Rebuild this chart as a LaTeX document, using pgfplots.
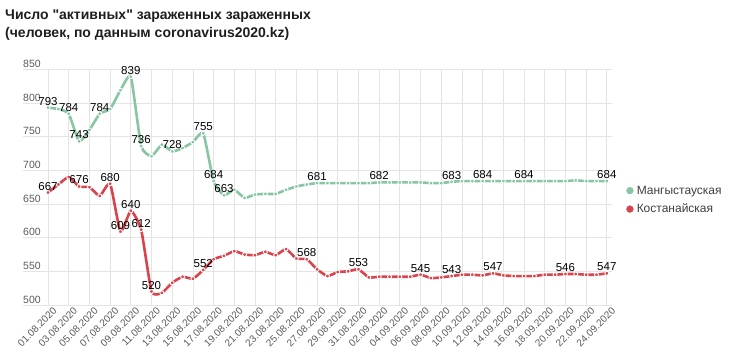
\documentclass[border=0pt]{standalone}
\usepackage{fontspec}
\setmainfont{Liberation Sans}[Ligatures=TeXOff]
\usepackage{pgfplots}
\pgfplotsset{compat=1.18}
\definecolor{grn}{HTML}{88C5A3}
\definecolor{rd}{HTML}{D9434B}
\definecolor{gridc}{HTML}{E4E4E4}
\definecolor{tickc}{HTML}{5A5A5A}
\definecolor{titlec}{HTML}{1E1E1E}

\pgfplotstableread{
i v
0 793
1 791
2 784
3 743
4 760
5 784
6 791
7 819
8 839
9 736
10 721
11 738
12 728
13 733
14 742
15 755
16 684
17 663
18 671
19 659
20 664
21 665
22 665
23 671
24 676
25 679
26 681
27 681
28 681
29 681
30 681
31 681
32 682
33 682
34 682
35 682
36 682
37 681
38 681
39 683
40 684
41 684
42 684
43 684
44 684
45 684
46 684
47 684
48 684
49 684
50 684
51 685
52 684
53 684
54 684
}\mang

\pgfplotstableread{
i v
0 667
1 679
2 690
3 676
4 675
5 662
6 680
7 609
8 640
9 612
10 520
11 518
12 533
13 542
14 539
15 552
16 568
17 573
18 580
19 575
20 574
21 579
22 574
23 583
24 569
25 568
26 553
27 543
28 549
29 550
30 553
31 541
32 542
33 542
34 542
35 542
36 545
37 540
38 541
39 543
40 545
41 545
42 544
43 547
44 544
45 543
46 543
47 543
48 545
49 545
50 546
51 546
52 545
53 545
54 547
}\kost

\begin{document}
\begin{tikzpicture}[x=1pt,y=1pt]
\useasboundingbox (0,0) rectangle (730,356);
\node[anchor=base west, inner sep=0pt, font=\fontsize{14}{17}\selectfont\bfseries, text=titlec] at (5,336.5) {Число "активных" зараженных зараженных};
\node[anchor=base west, inner sep=0pt, font=\fontsize{14}{17}\selectfont\bfseries, text=titlec] at (5,318) {(человек, по данным coronavirus2020.kz)};
\begin{axis}[
  at={(23pt,51pt)}, anchor=south west,
  scale only axis, width=589pt, height=235.7pt,
  xmin=-2.42, xmax=54.5, ymin=500, ymax=850,
  xtick={0,2,...,54},
  xticklabels={01.08.2020,03.08.2020,05.08.2020,07.08.2020,09.08.2020,11.08.2020,13.08.2020,15.08.2020,17.08.2020,19.08.2020,21.08.2020,23.08.2020,25.08.2020,27.08.2020,29.08.2020,31.08.2020,02.09.2020,04.09.2020,06.09.2020,08.09.2020,10.09.2020,12.09.2020,14.09.2020,16.09.2020,18.09.2020,20.09.2020,22.09.2020,24.09.2020},
  ytick={500,550,...,850},
  grid=major, major grid style={draw=gridc, line width=0.8pt},
  axis line style={draw=none}, tick style={draw=none},
  /pgf/number format/assume math mode=true,
  yticklabel style={anchor=south west, inner sep=0pt, yshift=1.5pt, font=\fontsize{10.5}{12}\selectfont, text=tickc},
  xticklabel style={rotate=45, anchor=north east, inner sep=0pt, yshift=-4pt, xshift=2pt, font=\fontsize{10}{12}\selectfont, text=tickc},
  clip=false,
  legend style={at={(1.024,0.51)}, anchor=north west, draw=none, fill=none, inner sep=0pt,
    row sep=6pt, font=\fontsize{12}{14}\selectfont, text=tickc!70!black,
    nodes={inner sep=1pt, anchor=base west}},
  legend cell align=left,
]
\addplot[grn, line width=2.6pt, smooth, tension=0.3, mark=*, mark size=2pt, mark options={fill=grn, draw=white, line width=0.9pt}, forget plot] table[x=i,y=v] {\mang};
\addplot[rd, line width=2.6pt, smooth, tension=0.3, mark=*, mark size=2pt, mark options={fill=rd, draw=white, line width=0.9pt}, forget plot] table[x=i,y=v] {\kost};
\addplot[draw=none, mark=none, forget plot, point meta=explicit symbolic,
  nodes near coords,
  nodes near coords style={anchor=base, yshift=2.5pt, inner sep=0pt, font=\fontsize{11.5}{13}\selectfont, text=black}]
  coordinates {(0,793)[793] (2,784)[784] (3,743)[743] (5,784)[784] (8,839)[839] (9,736)[736] (12,728)[728] (15,755)[755] (16,684)[684] (17,663)[663] (26,681)[681] (32,682)[682] (39,683)[683] (42,684)[684] (46,684)[684] (54,684)[684]};
\addplot[draw=none, mark=none, forget plot, point meta=explicit symbolic,
  nodes near coords,
  nodes near coords style={anchor=base, yshift=2.5pt, inner sep=0pt, font=\fontsize{11.5}{13}\selectfont, text=black}]
  coordinates {(0,667)[667] (3,676)[676] (6,680)[680] (7,609)[609] (8,640)[640] (9,612)[612] (10,520)[520] (15,552)[552] (25,568)[568] (30,553)[553] (36,545)[545] (39,543)[543] (43,547)[547] (50,546)[546] (54,547)[547]};
\addlegendimage{legend image code/.code={\fill[grn] (3.4pt,3.6pt) circle (3.4pt); \path (9pt,0pt);}}
\addlegendentry{Мангыстауская}
\addlegendimage{legend image code/.code={\fill[rd] (3.4pt,3.6pt) circle (3.4pt); \path (9pt,0pt);}}
\addlegendentry{Костанайская}
\end{axis}
\end{tikzpicture}
\end{document}
